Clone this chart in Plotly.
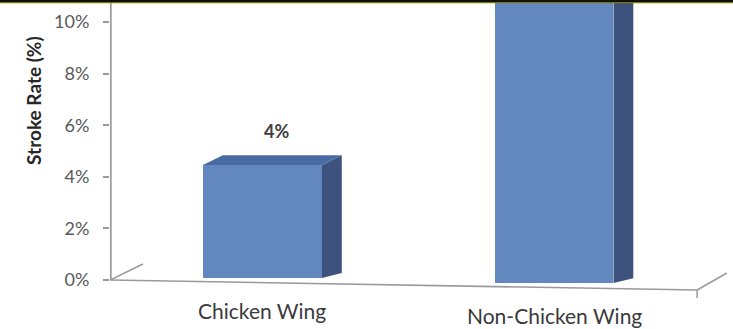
import plotly.graph_objects as go

# ---- data ----
categories = ["Chicken Wing", "Non-Chicken Wing"]
stroke_rate = [4.38, 14.0]          # percent (second bar runs off the top of the chart)
value_labels = ["4%", ""]
y_ticks = [0, 2, 4, 6, 8, 10]
y_tick_labels = ["0%", "2%", "4%", "6%", "8%", "10%"]

# ---- style / geometry ----
FONT = "Lato"
front_col = "#6387BF"
side_col = "#3D537D"
top_col = "#4A6AA3"
bar_w = 0.408
depth_dx = 0.068      # 3D depth in x units
depth_dy = 0.38       # 3D depth in y units
bases = [0.08, -0.12] # perspective floor offset per bar
label_y = [-1.19, -1.36]

x_min, x_max = -0.523, 1.614
y_min, y_max = -0.736, 10.736


def ypaper(v):
    return (v - y_min) / (y_max - y_min)


xs = list(range(len(categories)))
fig = go.Figure()

# front faces
fig.add_trace(go.Bar(
    x=xs, y=stroke_rate, base=bases, width=bar_w,
    marker=dict(color=front_col, line=dict(width=0)),
    showlegend=False, hoverinfo="skip"))

# side and top faces
for xc, v, b in zip(xs, stroke_rate, bases):
    xl, xr = xc - bar_w / 2, xc + bar_w / 2
    top = b + v
    fig.add_trace(go.Scatter(
        x=[xr, xr, xr + depth_dx, xr + depth_dx, xr],
        y=[b, top, top + depth_dy, b + depth_dy * 0.5, b],
        fill="toself", fillcolor=side_col, mode="lines",
        line=dict(width=0, color=side_col), showlegend=False, hoverinfo="skip"))
    fig.add_trace(go.Scatter(
        x=[xl, xr, xr + depth_dx, xl + depth_dx, xl],
        y=[top, top, top + depth_dy, top + depth_dy, top],
        fill="toself", fillcolor=top_col, mode="lines",
        line=dict(width=0, color=top_col), showlegend=False, hoverinfo="skip"))

# value labels
for xc, v, b, t in zip(xs, stroke_rate, bases, value_labels):
    if t and b + v < y_max:
        fig.add_annotation(x=xc + depth_dx * 0.7, y=b + v + depth_dy, text=f"<b>{t}</b>",
                           showarrow=False, yanchor="bottom", yshift=11,
                           font=dict(family=FONT, size=18, color="#404040"))

# category labels
for xc, name, ly in zip(xs, categories, label_y):
    fig.add_annotation(x=xc, xref="x", yref="paper", y=ypaper(ly), text=name,
                       showarrow=False, xanchor="center", yanchor="middle",
                       font=dict(family=FONT, size=21, color="#3A3A3A"))

# y-axis title
fig.add_annotation(xref="paper", yref="paper", x=-0.122, y=ypaper(6.98),
                   text="<b>Stroke Rate (%)</b>", xanchor="center", yanchor="middle",
                   textangle=-90, showarrow=False,
                   font=dict(family=FONT, size=19, color="#262626"))

axis_gray = "#9A9A9A"
shapes = [
    # vertical axis line
    dict(type="line", xref="x", yref="y", x0=x_min + 0.002, x1=x_min + 0.002, y0=0, y1=y_max,
         line=dict(color=axis_gray, width=2.2)),
    # floor front edge
    dict(type="line", xref="x", yref="y", x0=x_min, y0=0, x1=1.491, y1=-0.388,
         line=dict(color=axis_gray, width=1.6)),
    # floor left slant
    dict(type="line", xref="x", yref="y", x0=x_min, y0=0, x1=-0.41, y1=0.62,
         line=dict(color=axis_gray, width=1.5)),
    # floor right slant
    dict(type="line", xref="x", yref="y", x0=1.491, y0=-0.388, x1=1.593, y1=0.271,
         line=dict(color=axis_gray, width=1.5)),
    # small tick at right end
    dict(type="line", xref="x", yref="y", x0=1.491, y0=-0.388, x1=1.491, y1=-0.70,
         line=dict(color=axis_gray, width=1.5)),
    # top border
    dict(type="line", xref="paper", yref="paper", x0=-0.2, x1=1.01, y0=1.0065, y1=1.0065,
         line=dict(color="#111100", width=2)),
    dict(type="line", xref="paper", yref="paper", x0=-0.2, x1=1.01, y0=1.0015, y1=1.0015,
         line=dict(color="#77771a", width=1.2)),
]

fig.update_layout(
    width=733, height=329,
    margin=dict(l=110, r=0, t=3, b=30),
    paper_bgcolor="white", plot_bgcolor="white",
    shapes=shapes,
    bargap=0,
    xaxis=dict(range=[x_min, x_max], showgrid=False, zeroline=False, showline=False,
               showticklabels=False, ticks=""),
    yaxis=dict(range=[y_min, y_max], showgrid=False, zeroline=False, showline=False,
               tickvals=y_ticks, ticktext=y_tick_labels, ticks="outside", ticklen=6,
               tickcolor=axis_gray, tickwidth=1.5, ticklabelstandoff=10,
               tickfont=dict(family=FONT, size=18, color="#595959")),
)

fig.write_html("out.html")
